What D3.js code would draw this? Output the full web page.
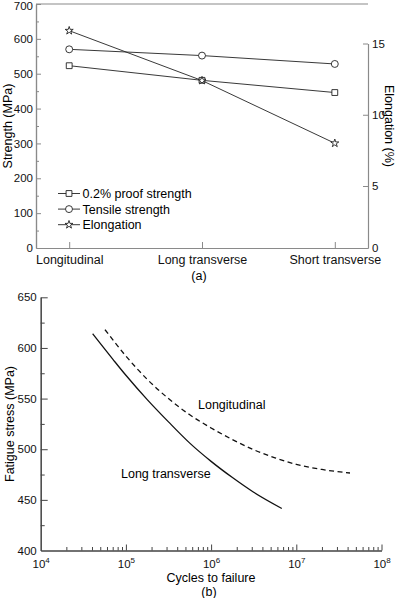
<!DOCTYPE html>
<html>
<head>
<meta charset="utf-8">
<script src="https://cdnjs.cloudflare.com/ajax/libs/d3/7.8.5/d3.min.js"></script>
<style>
    body { margin: 0; background: #fff; }
    svg { display: block; font-family: "Liberation Sans", Arial, sans-serif; }
</style>
</head>
<body>
<div id="chartcontainer"></div>
<script>
// (a) strength and elongation by orientation
var orientations = ["Longitudinal", "Long transverse", "Short transverse"];
var proofStrength = [523, 481, 446];     // MPa
var tensileStrength = [570, 552, 528];   // MPa
var elongation = [15.9, 12.4, 8.0];      // %
var strengthTicks = [0, 100, 200, 300, 400, 500, 600, 700];
var strengthMinorTicks = [50, 150, 250, 350, 450, 550, 650];
var elongationTicks = [0, 5, 10, 15];
var legendLabels = ["0.2% proof strength", "Tensile strength", "Elongation"];

// (b) fatigue curves, cycles to failure vs stress (MPa)
var longTransCycles = [4.07e4, 7.08e4, 1e5, 1.78e5, 3.16e5, 5.62e5, 1e6, 1.78e6, 3.16e6, 6.76e6];
var longTransStress = [614, 588.5, 573, 549, 527, 506, 488, 472, 457.5, 441.5];
var longitCycles = [5.69e4, 1e5, 1.78e5, 3.16e5, 5.62e5, 1e6, 1.78e6, 3.16e6, 5.62e6, 1e7, 2e7, 4.27e7];
var longitStress = [618, 592, 569, 550, 534, 521, 509.5, 499.5, 491.5, 485, 480, 476.5];
var stressTicks = [400, 450, 500, 550, 600, 650];
var stressMinorTicks = [425, 475, 525, 575, 625];
var cycleTicks = [1e4, 1e5, 1e6, 1e7, 1e8];

function drawCharts() {
    /*global d3 */
    var width = 396,
        height = 598,
        fontSize = 12.5,
        numSize = 11.5;

    var svg = d3.select("#chartcontainer").append("svg")
        .attr("width", width)
        .attr("height", height);

    /**
     * Panel (a): two y axes, categories on x
     */
    function drawPanelA() {
        var left = 36, right = 368, top = 4, bottom = 248,
            frameColor = "#8a8a8a";

        var x = d3.scalePoint().domain(orientations).range([left, right]).padding(0.25),
            yS = d3.scaleLinear().domain([0, 700]).range([bottom, top]),
            // right scale as drawn in the original is not quite uniform below 5 %
            yE = d3.scaleLinear().domain([0, 5, 15]).range([bottom, 186, 43.5]);

        var g = svg.append("g");

        // frame top line
        g.append("line")
            .attr("x1", left).attr("x2", right)
            .attr("y1", yS(700)).attr("y2", yS(700))
            .attr("stroke", frameColor).attr("stroke-width", 1.2);

        var axL = g.append("g").attr("transform", "translate(" + left + ",0)")
            .call(d3.axisLeft(yS).tickValues(strengthTicks).tickSize(-5).tickSizeOuter(0).tickPadding(3));
        g.append("g").attr("transform", "translate(" + left + ",0)")
            .call(d3.axisLeft(yS).tickValues(strengthMinorTicks).tickSize(-3).tickSizeOuter(0).tickFormat(""));

        var axR = g.append("g").attr("transform", "translate(" + right + ",0)")
            .call(d3.axisRight(yE).tickValues(elongationTicks).tickSize(-5).tickSizeOuter(0).tickPadding(4));

        var axB = g.append("g").attr("transform", "translate(0," + bottom + ")")
            .call(d3.axisBottom(x).tickSize(-6).tickSizeOuter(0).tickPadding(7));

        g.selectAll(".domain").attr("stroke", frameColor).attr("stroke-width", 1.2);
        g.selectAll(".tick line").attr("stroke", frameColor);
        g.selectAll(".tick line").filter(function (d) { return d === 0; }).remove();
        axL.selectAll("text").attr("font-size", numSize).attr("fill", "#111");
        // top label sits on the frame edge, keep it inside the page
        axL.selectAll("text").filter(function (d) { return d === 700; }).attr("dy", "0.45em");
        axR.selectAll("text").attr("font-size", numSize).attr("fill", "#111");
        axB.selectAll("text").attr("font-size", fontSize).attr("fill", "#111");

        g.append("text")
            .attr("transform", "translate(12,126) rotate(-90)")
            .attr("text-anchor", "middle")
            .attr("font-size", fontSize)
            .text("Strength (MPa)");

        g.append("text")
            .attr("transform", "translate(385,126) rotate(90)")
            .attr("text-anchor", "middle")
            .attr("font-size", fontSize)
            .text("Elongation (%)");

        g.append("text")
            .attr("x", 199).attr("y", 279.5)
            .attr("text-anchor", "middle")
            .attr("font-size", fontSize)
            .text("(a)");

        var series = [
            { values: proofStrength, scale: yS, symbol: d3.symbolSquare, size: 34 },
            { values: tensileStrength, scale: yS, symbol: d3.symbolCircle, size: 38 },
            { values: elongation, scale: yE, symbol: d3.symbolStar, size: 20 }
        ];

        series.forEach(function (s) {
            var line = d3.line()
                .x(function (d, i) { return x(orientations[i]); })
                .y(function (d) { return s.scale(d); });

            g.append("path")
                .attr("d", line(s.values))
                .attr("fill", "none")
                .attr("stroke", "#222")
                .attr("stroke-width", 0.9);

            g.selectAll(null).data(s.values).enter().append("path")
                .attr("d", d3.symbol(s.symbol, s.size))
                .attr("transform", function (d, i) {
                    return "translate(" + x(orientations[i]) + "," + s.scale(d) + ")";
                })
                .attr("fill", "#fff")
                .attr("stroke", "#222")
                .attr("stroke-width", 0.9);
        });

        // legend
        var legend = g.append("g").attr("transform", "translate(58,193.5)");
        legendLabels.forEach(function (label, i) {
            var row = legend.append("g").attr("transform", "translate(0," + (i * 15.6) + ")");
            row.append("line")
                .attr("x1", 0).attr("x2", 22)
                .attr("stroke", "#222").attr("stroke-width", 0.9);
            row.append("path")
                .attr("d", d3.symbol(series[i].symbol, series[i].size))
                .attr("transform", "translate(11,0)")
                .attr("fill", "#fff").attr("stroke", "#222").attr("stroke-width", 0.9);
            row.append("text")
                .attr("x", 24.5).attr("y", 4.4)
                .attr("font-size", fontSize)
                .text(label);
        });
    }

    /**
     * Panel (b): S-N curves on log cycles axis
     */
    function drawPanelB() {
        var left = 40.7, right = 381.5, top = 297.3, bottom = 550.5,
            axisColor = "#444";

        var x = d3.scaleLog().domain([1e4, 1e8]).range([left, right]),
            y = d3.scaleLinear().domain([400, 650]).range([bottom, top]);

        var g = svg.append("g");

        var axY = g.append("g").attr("transform", "translate(" + left + ",0)")
            .call(d3.axisLeft(y).tickValues(stressTicks).tickSize(-7).tickSizeOuter(0).tickPadding(4));
        g.append("g").attr("transform", "translate(" + left + ",0)")
            .call(d3.axisLeft(y).tickValues(stressMinorTicks).tickSize(-4).tickSizeOuter(0).tickFormat(""));

        var minor = x.ticks().filter(function (d) {
            return cycleTicks.indexOf(d) < 0;
        });
        var axX = g.append("g").attr("transform", "translate(0," + bottom + ")")
            .call(d3.axisBottom(x).tickValues(cycleTicks).tickSize(-6).tickSizeOuter(0).tickFormat(""));
        g.append("g").attr("transform", "translate(0," + bottom + ")")
            .call(d3.axisBottom(x).tickValues(minor).tickSize(-3.5).tickSizeOuter(0).tickFormat(""));

        g.selectAll(".domain").attr("stroke", axisColor).attr("stroke-width", 1.1);
        g.selectAll(".tick line").attr("stroke", axisColor);
        axY.selectAll(".tick line").filter(function (d) { return d === 400; }).remove();
        axX.selectAll(".tick line").filter(function (d) { return d === 1e4; }).remove();
        axY.selectAll("text").attr("font-size", numSize).attr("fill", "#111");

        // power-of-ten labels
        axX.selectAll(".tick").append("text")
            .attr("y", 17)
            .attr("text-anchor", "middle")
            .attr("fill", "#111")
            .attr("font-size", numSize)
            .each(function (d) {
                var t = d3.select(this);
                t.append("tspan").text("10");
                t.append("tspan")
                    .attr("font-size", 8)
                    .attr("dy", -5)
                    .text(Math.round(Math.log10(d)));
            });

        g.append("text")
            .attr("transform", "translate(14,424) rotate(-90)")
            .attr("text-anchor", "middle")
            .attr("font-size", fontSize)
            .text("Fatigue stress (MPa)");

        g.append("text")
            .attr("x", 211).attr("y", 581.5)
            .attr("text-anchor", "middle")
            .attr("font-size", fontSize)
            .text("Cycles to failure");

        g.append("text")
            .attr("x", 209).attr("y", 595.5)
            .attr("text-anchor", "middle")
            .attr("font-size", fontSize)
            .text("(b)");

        var line = d3.line()
            .x(function (d) { return x(d[0]); })
            .y(function (d) { return y(d[1]); })
            .curve(d3.curveMonotoneX);

        g.append("path")
            .attr("d", line(d3.zip(longTransCycles, longTransStress)))
            .attr("fill", "none")
            .attr("stroke", "#111")
            .attr("stroke-width", 1.3);

        g.append("path")
            .attr("d", line(d3.zip(longitCycles, longitStress)))
            .attr("fill", "none")
            .attr("stroke", "#111")
            .attr("stroke-width", 1.3)
            .attr("stroke-dasharray", "5,3.5");

        g.append("text")
            .attr("x", 198).attr("y", 408.5)
            .attr("font-size", fontSize)
            .text("Longitudinal");

        g.append("text")
            .attr("x", 121).attr("y", 477.5)
            .attr("font-size", fontSize)
            .text("Long transverse");
    }

    drawPanelA();
    drawPanelB();
}

drawCharts();
</script>
</body>
</html>
